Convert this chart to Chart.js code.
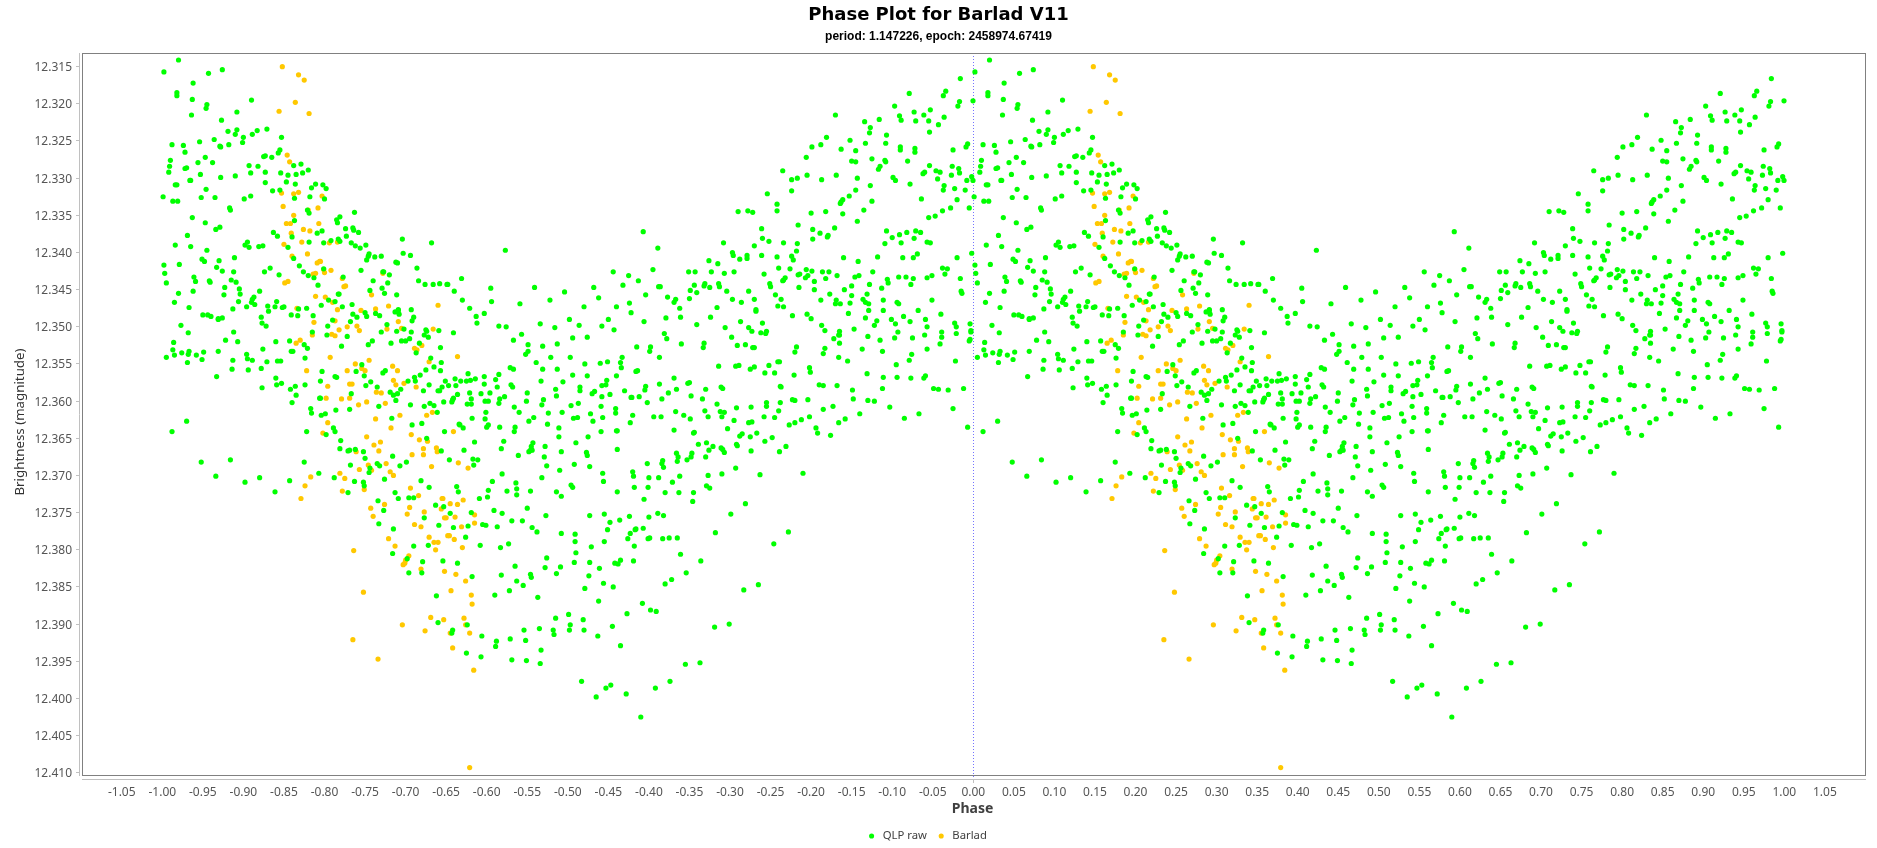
<!DOCTYPE html>
<html>
<head>
<meta charset="utf-8">
<title>Phase Plot for Barlad V11</title>
<script src="https://cdn.jsdelivr.net/npm/chart.js@4"></script>
<style>
	html, body { margin: 0; padding: 0; background: #fff; }
	canvas { display: block; }
</style>
</head>
<body>
<canvas id="phaseChart" width="1877" height="848"></canvas>
<script>
const titleText = "Phase Plot for Barlad V11";
const subtitleText = "period: 1.147226, epoch: 2458974.67419";
const yAxisText = "Brightness (magnitude)";
const seriesNames = ["QLP raw", "Barlad"];

const phaseTicks = [-1.05, -1, -0.95, -0.9, -0.85, -0.8, -0.75, -0.7, -0.65, -0.6, -0.55, -0.5, -0.45, -0.4, -0.35, -0.3, -0.25, -0.2, -0.15, -0.1, -0.05, 0, 0.05, 0.1, 0.15, 0.2, 0.25, 0.3, 0.35, 0.4, 0.45, 0.5, 0.55, 0.6, 0.65, 0.7, 0.75, 0.8, 0.85, 0.9, 0.95, 1, 1.05];
const magTicks = [12.315, 12.32, 12.325, 12.33, 12.335, 12.34, 12.345, 12.35, 12.355, 12.36, 12.365, 12.37, 12.375, 12.38, 12.385, 12.39, 12.395, 12.4, 12.405, 12.41];

// [phase, magnitude] for phase 0..1, the -1..0 half repeats them
const rawPoints = [
[.020,12.3141],[.002,12.3157],[.057,12.3159],[.074,12.3154],[.038,12.3172],[.018,12.3185],[.018,12.3189],[.037,12.3194],[.055,12.3201],[.054,12.3206],[.036,12.3215],[.110,12.3195],[.092,12.3211],[.073,12.3222],[.092,12.3235],[.081,12.3237],[.090,12.3241],[.100,12.3245],[.111,12.3241],[.117,12.3236],[.129,12.3234],[.099,12.3252],[.147,12.3245],[.064,12.3248],[.046,12.3251],[.082,12.3255],[.071,12.3257],[.072,12.3258],[.012,12.3255],[.026,12.3256],[.028,12.3265],[.145,12.3262],[.143,12.3266],[.127,12.3270],[.125,12.3271],[.135,12.3272],[.053,12.3272],[.010,12.3276],[.009,12.3284],[.044,12.3279],[.062,12.3279],[.030,12.3286],[.028,12.3287],[.008,12.3292],[.047,12.3295],[.107,12.3283],[.118,12.3284],[.109,12.3293],[.127,12.3292],[.146,12.3293],[.162,12.3283],[.171,12.3281],[.180,12.3289],[.173,12.3293],[.165,12.3295],[.155,12.3296],
[.035,12.3303],[.034,12.3303],[.072,12.3299],[.090,12.3297],[.127,12.3306],[.153,12.3305],[.164,12.3308],[.145,12.3316],[.136,12.3317],[.189,12.3308],[.184,12.3313],[.198,12.3309],[.202,12.3314],[.016,12.3309],[.018,12.3309],[.054,12.3315],[.048,12.3326],[.065,12.3326],[.001,12.3325],[.013,12.3331],[.019,12.3331],[.101,12.3328],[.109,12.3324],[.163,12.3327],[.182,12.3325],[.200,12.3328],[.083,12.3340],[.084,12.3343],[.179,12.3343],[.181,12.3347],[.037,12.3353],[.053,12.3360],[.066,12.3369],[.071,12.3366],[.163,12.3357],[.237,12.3346],[.219,12.3352],[.215,12.3356],[.216,12.3360],[.226,12.3368],[.235,12.3367],[.236,12.3370],[.242,12.3373],[.197,12.3371],[.191,12.3374],[.137,12.3373],[.142,12.3378],[.160,12.3379],[.031,12.3377],[.217,12.3382],[.219,12.3385],[.227,12.3378],[.208,12.3384],[.199,12.3387],[.181,12.3386],[.233,12.3387],[.238,12.3391],[.244,12.3394],[.251,12.3390],[.296,12.3382],[.332,12.3387],[.423,12.3397],
[.016,12.3390],[.035,12.3392],[.055,12.3397],[.102,12.3390],[.105,12.3386],[.107,12.3393],[.119,12.3392],[.124,12.3391],[.155,12.3393],[.162,12.3408],[.297,12.3401],[.306,12.3404],[.255,12.3402],[.254,12.3405],[.252,12.3410],[.262,12.3406],[.270,12.3405],[.089,12.3407],[.049,12.3409],[.052,12.3412],[.070,12.3411],[.288,12.3413],[.290,12.3414],[.002,12.3417],[.021,12.3416],[.067,12.3420],[.169,12.3418],[.133,12.3421],[.074,12.3425],[.088,12.3426],[.126,12.3426],[.174,12.3426],[.199,12.3422],[.314,12.3421],[.245,12.3424],[.272,12.3426],[.273,12.3426],[.003,12.3428],[.180,12.3431],[.144,12.3430],[.187,12.3434],[.223,12.3433],[.280,12.3430],[.039,12.3433],[.085,12.3437],[.091,12.3440],[.058,12.3438],[.059,12.3440],[.041,12.3439],[.005,12.3441],[.260,12.3438],[.316,12.3438],[.278,12.3441],[.324,12.3443],[.334,12.3443],[.342,12.3442],[.351,12.3443],[.352,12.3443],[.369,12.3435],[.556,12.3426],
[.192,12.3444],[.095,12.3449],[.077,12.3447],[.096,12.3456],[.076,12.3457],[.120,12.3452],[.038,12.3452],[.020,12.3455],[.217,12.3456],[.218,12.3456],[.256,12.3451],[.271,12.3448],[.274,12.3455],[.289,12.3457],[.360,12.3452],[.405,12.3448],[.459,12.3447],[.496,12.3453],[.532,12.3447],[.478,12.3464],[.538,12.3461],[.406,12.3466],[.370,12.3464],[.113,12.3460],[.111,12.3463],[.110,12.3467],[.094,12.3466],[.015,12.3467],[.141,12.3466],[.205,12.3464],[.213,12.3466],[.114,12.3470],[.033,12.3474],[.130,12.3472],[.139,12.3473],[.150,12.3473],[.148,12.3474],[.104,12.3473],[.087,12.3476],[.234,12.3470],[.222,12.3473],[.196,12.3471],[.178,12.3475],[.168,12.3476],[.441,12.3469],[.520,12.3473],[.560,12.3473],[.379,12.3475],[.307,12.3477],[.291,12.3477],
[.050,12.3484],[.056,12.3484],[.060,12.3486],[.069,12.3489],[.074,12.3488],[.069,12.3490],[.122,12.3487],[.131,12.3479],[.159,12.3484],[.167,12.3485],[.186,12.3485],[.210,12.3491],[.232,12.3493],[.235,12.3483],[.240,12.3487],[.250,12.3481],[.252,12.3486],[.263,12.3482],[.268,12.3485],[.287,12.3480],[.291,12.3478],[.292,12.3483],[.310,12.3487],[.308,12.3492],[.387,12.3486],[.397,12.3482],[.388,12.3495],[.415,12.3499],[.424,12.3500],[.466,12.3496],[.484,12.3501],[.502,12.3490],[.514,12.3498],[.542,12.3499],[.550,12.3490],[.557,12.3504],[.023,12.3498],[.123,12.3495],[.128,12.3499],[.204,12.3499],[.277,12.3497],[.298,12.3503],[.307,12.3507],[.270,12.3507],[.289,12.3506],[.325,12.3504],[.326,12.3506],[.341,12.3505],[.359,12.3508],[.032,12.3508],[.088,12.3507],[.185,12.3507],[.203,12.3511],[.228,12.3513],[.323,12.3511],[.328,12.3514],[.443,12.3510],[.433,12.3518],[.506,12.3515],[.524,12.3514],
[.014,12.3521],[.078,12.3518],[.093,12.3520],[.140,12.3520],[.157,12.3519],[.175,12.3524],[.179,12.3529],[.254,12.3524],[.259,12.3519],[.282,12.3522],[.295,12.3519],[.300,12.3519],[.305,12.3516],[.317,12.3522],[.221,12.3526],[.451,12.3524],[.469,12.3526],[.487,12.3523],[.343,12.3528],[.013,12.3531],[.015,12.3538],[.024,12.3535],[.033,12.3533],[.032,12.3537],[.042,12.3538],[.051,12.3534],[.049,12.3544],[.069,12.3533],[.005,12.3541],[.031,12.3548],[.104,12.3537],[.105,12.3543],[.111,12.3545],[.124,12.3530],[.159,12.3533],[.161,12.3533],[.176,12.3542],[.142,12.3546],[.146,12.3546],[.129,12.3547],[.087,12.3545],[.313,12.3535],[.451,12.3533],[.448,12.3537],[.461,12.3548],[.479,12.3541],[.503,12.3541],[.521,12.3550],[.540,12.3549],[.549,12.3547],[.331,12.3542],[.344,12.3548],[.335,12.3554],[.246,12.3551],[.239,12.3560],
[.086,12.3557],[.106,12.3558],[.122,12.3556],[.067,12.3567],[.197,12.3560],[.249,12.3566],[.325,12.3558],[.343,12.3559],[.318,12.3565],[.311,12.3568],[.312,12.3573],[.303,12.3573],[.275,12.3559],[.272,12.3562],[.213,12.3567],[.215,12.3568],[.140,12.3569],[.147,12.3576],[.141,12.3578],[.123,12.3582],[.158,12.3584],[.164,12.3580],[.176,12.3578],[.195,12.3573],[.257,12.3574],[.251,12.3579],[.265,12.3581],[.281,12.3588],[.233,12.3590],[.322,12.3586],[.329,12.3578],[.349,12.3573],[.345,12.3581],[.353,12.3579],[.361,12.3570],[.362,12.3579],[.368,12.3573],[.375,12.3573],[.380,12.3572],[.377,12.3563],[.386,12.3570],[.397,12.3567],[.397,12.3577],[.411,12.3571],[.415,12.3564],[.429,12.3555],[.433,12.3557],[.467,12.3573],[.469,12.3557],[.487,12.3557],[.506,12.3565],[.524,12.3566],[.494,12.3574],[.515,12.3581],[.485,12.3584],[.515,12.3586],[.542,12.3579],[.530,12.3590],[.533,12.3587],[.547,12.3578],[.548,12.3572],[.560,12.3566],[.552,12.3591],[.542,12.3594],
[.430,12.3578],[.432,12.3581],[.413,12.3581],[.340,12.3586],[.342,12.3586],[.290,12.3590],[.285,12.3592],[.294,12.3584],[.165,12.3592],[.194,12.3596],[.195,12.3596],[.288,12.3599],[.160,12.3602],[.183,12.3610],[.184,12.3616],[.201,12.3617],[.196,12.3619],[.214,12.3612],[.231,12.3611],[.267,12.3607],[.306,12.3605],[.323,12.3607],[.330,12.3603],[.335,12.3606],[.347,12.3601],[.358,12.3598],[.359,12.3596],[.357,12.3601],[.364,12.3591],[.381,12.3597],[.379,12.3589],[.393,12.3590],[.404,12.3589],[.422,12.3594],[.416,12.3597],[.415,12.3603],[.398,12.3600],[.402,12.3600],[.376,12.3604],[.381,12.3604],[.450,12.3589],[.449,12.3600],[.470,12.3598],[.468,12.3605],[.486,12.3593],[.434,12.3608],[.440,12.3615],[.504,12.3606],[.513,12.3603],[.541,12.3607],[.559,12.3610],[.559,12.3616],[.528,12.3617],[.543,12.3622],[.531,12.3627],[.399,12.3615],[.398,12.3624],[.382,12.3623],[.339,12.3615],[.283,12.3623],[.308,12.3632],[.320,12.3630],
[.476,12.3616],[.493,12.3615],[.507,12.3623],[.512,12.3622],[.458,12.3622],[.452,12.3627],[.475,12.3631],[.366,12.3631],[.367,12.3632],[.371,12.3636],[.402,12.3632],[.400,12.3635],[.416,12.3635],[.435,12.3635],[.434,12.3641],[.489,12.3636],[.489,12.3648],[.178,12.3641],[.202,12.3645],[.211,12.3636],[.213,12.3641],[.348,12.3641],[.326,12.3650],[.525,12.3648],[.541,12.3641],[.560,12.3640],[.510,12.3656],[.421,12.3654],[.418,12.3664],[.385,12.3655],[.457,12.3656],[.455,12.3661],[.452,12.3668],[.454,12.3666],[.456,12.3666],[.472,12.3661],[.492,12.3668],[.561,12.3665],[.523,12.3669],[.524,12.3673],[.439,12.3673],[.471,12.3675],[.474,12.3687],[.508,12.3685],[.527,12.3688],[.220,12.3653],[.219,12.3664],[.229,12.3667],[.231,12.3666],[.238,12.3665],[.248,12.3668],[.250,12.3677],[.284,12.3674],[.344,12.3667],[.372,12.3666],[.383,12.3678],[.389,12.3679],[.354,12.3679],[.301,12.3682],[.293,12.3687],[.384,12.3686],[.265,12.3684],[.268,12.3687],[.232,12.3686],[.256,12.3690],[.255,12.3696],
[.193,12.3697],[.212,12.3703],[.237,12.3708],[.248,12.3709],[.249,12.3714],[.274,12.3705],[.319,12.3707],[.329,12.3716],[.363,12.3715],[.365,12.3722],[.419,12.3698],[.407,12.3708],[.436,12.3710],[.437,12.3718],[.437,12.3726],[.425,12.3721],[.402,12.3720],[.401,12.3729],[.391,12.3731],[.454,12.3721],[.468,12.3703],[.490,12.3693],[.543,12.3697],[.544,12.3708],[.504,12.3713],[.506,12.3716],[.486,12.3722],[.492,12.3728],[.561,12.3722],[.157,12.3707],[.139,12.3722],[.102,12.3709],[.120,12.3703],[.066,12.3701],[.084,12.3679],[.048,12.3682],[.175,12.3682],[.030,12.3627],[.012,12.3641],
[.229,12.3723],[.287,12.3723],[.291,12.3731],[.304,12.3730],[.310,12.3730],[.266,12.3734],[.273,12.3747],[.267,12.3765],[.285,12.3772],[.337,12.3740],[.347,12.3742],[.355,12.3751],[.381,12.3750],[.409,12.3747],[.419,12.3751],[.450,12.3744],[.473,12.3754],[.527,12.3754],[.545,12.3752],[.552,12.3763],[.323,12.3757],[.341,12.3767],[.359,12.3770],[.377,12.3768],[.395,12.3766],[.399,12.3767],[.413,12.3769],[.431,12.3761],[.444,12.3761],[.456,12.3770],[.462,12.3776],[.492,12.3778],[.509,12.3779],[.549,12.3773],[.509,12.3789],[.545,12.3789],[.529,12.3796],[.510,12.3804],[.310,12.3795],[.328,12.3794],[.374,12.3783],[.392,12.3794],[.417,12.3797],[.427,12.3792],[.284,12.3805],[.302,12.3812],[.321,12.3816],[.346,12.3815],[.364,12.3818],[.435,12.3822],[.474,12.3811],[.472,12.3824],[.491,12.3823],[.508,12.3817],[.527,12.3817],[.539,12.3825],[.558,12.3818],[.562,12.3819],
[.593,12.3372],[.611,12.3394],[.605,12.3423],[.575,12.3431],[.587,12.3438],[.568,12.3444],[.612,12.3446],[.614,12.3446],[.596,12.3457],[.623,12.3460],[.633,12.3463],[.631,12.3467],[.576,12.3468],[.638,12.3475],[.649,12.3426],[.657,12.3426],[.677,12.3426],[.693,12.3428],[.705,12.3426],[.656,12.3444],[.668,12.3445],[.669,12.3442],[.686,12.3442],[.687,12.3446],[.675,12.3447],[.651,12.3451],[.659,12.3454],[.696,12.3452],[.723,12.3452],[.650,12.3462],[.703,12.3463],[.714,12.3467],[.730,12.3463],[.684,12.3474],[.732,12.3477],[.674,12.3411],[.685,12.3415],[.692,12.3387],[.703,12.3400],[.704,12.3404],[.712,12.3409],[.721,12.3404],[.721,12.3408],[.739,12.3404],[.730,12.3391],[.710,12.3345],[.722,12.3344],[.728,12.3346],[.739,12.3368],[.740,12.3381],[.748,12.3385],[.746,12.3321],[.758,12.3335],[.758,12.3344],[.765,12.3290],[.776,12.3302],[.783,12.3300],[.776,12.3317],[.784,12.3363],[.766,12.3387],[.783,12.3388],[.758,12.3406],[.776,12.3405],[.778,12.3410],[.782,12.3398],[.760,12.3421],[.774,12.3422],[.742,12.3429],[.749,12.3442],[.750,12.3446],[.768,12.3434],[.766,12.3437],[.765,12.3438],[.786,12.3429],[.784,12.3430],[.794,12.3423],[.796,12.3431],[.793,12.3434],[.785,12.3447],[.756,12.3457],[.763,12.3463],[.759,12.3472],[.766,12.3473],
[.794,12.3272],[.795,12.3296],[.801,12.3258],[.812,12.3255],[.819,12.3245],[.830,12.3215],[.848,12.3249],[.837,12.3261],[.855,12.3263],[.867,12.3253],[.892,12.3253],[.866,12.3224],[.873,12.3232],[.872,12.3239],[.884,12.3221],[.893,12.3242],[.903,12.3203],[.927,12.3211],[.921,12.3186],[.947,12.3208],[.939,12.3215],[.909,12.3216],[.911,12.3222],[.929,12.3223],[.945,12.3223],[.957,12.3228],[.964,12.3218],[.946,12.3238],[.966,12.3183],[.963,12.3189],[.984,12.3166],[.9996,12.3196],[.983,12.3197],[.981,12.3203],[.910,12.3258],[.910,12.3262],[.928,12.3260],[.928,12.3265],[.975,12.3262],[.993,12.3254],[.991,12.3258],[.850,12.3277],[.855,12.3278],[.875,12.3274],[.891,12.3276],[.892,12.3278],[.919,12.3277],[.946,12.3283],[.974,12.3284],[.982,12.3287],[.983,12.3293],[.954,12.3290],[.959,12.3292],[.940,12.3292],[.938,12.3294],[.973,12.3296],[.885,12.3284],[.883,12.3288],[.831,12.3296],[.813,12.3302],[.857,12.3300],[.901,12.3299],[.904,12.3303],[.956,12.3301],[.998,12.3298],[.9996,12.3303],[.992,12.3303],[.922,12.3308],[.873,12.3310],[.964,12.3310],[.963,12.3316],[.977,12.3314],[.990,12.3316],[.855,12.3316],[.847,12.3324],[.839,12.3329],[.836,12.3334],[.837,12.3332],[.875,12.3331],[.936,12.3328],[.980,12.3329],[.972,12.3340],[.995,12.3340],[.962,12.3344],[.953,12.3351],[.945,12.3353],[.865,12.3343],[.800,12.3347],[.818,12.3345],[.839,12.3348],[.857,12.3358],[.829,12.3367],[.802,12.3369],[.811,12.3374],[.802,12.3382],[.820,12.3379],[.821,12.3377],[.893,12.3371],[.909,12.3376],[.918,12.3373],[.929,12.3371],[.935,12.3373],[.900,12.3380],[.927,12.3381],[.891,12.3388],[.911,12.3387],[.943,12.3386],[.947,12.3387],[.840,12.3407],[.858,12.3412],[.882,12.3406],[.913,12.3407],[.926,12.3407],[.931,12.3402],[.998,12.3401],[.980,12.3407],[.801,12.3425],[.814,12.3426],[.822,12.3426],[.832,12.3431],[.854,12.3433],[.859,12.3431],[.876,12.3426],[.962,12.3421],[.968,12.3422],[.965,12.3429],[.949,12.3431],[.943,12.3434],[.984,12.3435],[.908,12.3433],[.917,12.3433],[.926,12.3435],[.923,12.3443],[.894,12.3436],[.895,12.3441],[.818,12.3435],[.804,12.3439],[.804,12.3450],[.850,12.3445],[.872,12.3443],[.887,12.3448],[.841,12.3450],[.823,12.3456],[.850,12.3458],[.869,12.3456],[.812,12.3464],[.831,12.3464],[.864,12.3463],[.949,12.3464],[.889,12.3464],[.985,12.3452],[.986,12.3455],[.830,12.3469],[.836,12.3469],[.848,12.3468],[.867,12.3467],[.871,12.3469],[.906,12.3467],[.908,12.3469],
[.578,12.3481],[.594,12.3493],[.621,12.3488],[.639,12.3487],[.676,12.3487],[.659,12.3497],[.694,12.3501],[.713,12.3493],[.732,12.3479],[.740,12.3495],[.723,12.3501],[.727,12.3506],[.738,12.3508],[.745,12.3506],[.744,12.3509],[.777,12.3485],[.795,12.3483],[.800,12.3489],[.813,12.3498],[.817,12.3505],[.846,12.3482],[.867,12.3488],[.881,12.3492],[.878,12.3498],[.899,12.3490],[.904,12.3496],[.914,12.3486],[.922,12.3493],[.932,12.3478],[.941,12.3490],[.943,12.3500],[.960,12.3483],[.977,12.3495],[.979,12.3500],[.996,12.3496],[.961,12.3507],[.979,12.3509],[.997,12.3507],[.997,12.3505],[.871,12.3478],[.889,12.3478],[.853,12.3503],[.835,12.3506],[.835,12.3511],[.834,12.3511],[.870,12.3513],[.907,12.3507],[.940,12.3511],[.961,12.3514],[.925,12.3515],[.903,12.3515],[.885,12.3518],[.996,12.3517],[.995,12.3519],[.828,12.3516],[.835,12.3522],[.959,12.3523],[.817,12.3529],[.815,12.3536],[.863,12.3530],[.888,12.3533],[.943,12.3530],[.782,12.3527],[.780,12.3534],[.924,12.3537],[.921,12.3545],[.978,12.3546],[.834,12.3541],[.845,12.3546],[.761,12.3547],[.619,12.3509],[.622,12.3516],[.640,12.3523],[.602,12.3527],[.601,12.3533],[.585,12.3527],[.668,12.3522],[.667,12.3528],[.702,12.3514],[.730,12.3528],[.709,12.3525],[.719,12.3524],[.728,12.3528],[.759,12.3547],[.755,12.3562],[.613,12.3541],[.567,12.3541],[.565,12.3548],[.566,12.3555],[.686,12.3553],[.707,12.3553],[.711,12.3552],[.730,12.3554],[.725,12.3557],[.748,12.3552],[.743,12.3562],[.798,12.3555],[.799,12.3561],[.779,12.3565],[.905,12.3551],[.869,12.3563],[.889,12.3568],[.906,12.3568],[.923,12.3569],[.939,12.3569],[.941,12.3566],[.584,12.3560],[.586,12.3559],[.631,12.3569],[.810,12.3578],[.815,12.3579],[.832,12.3579],[.851,12.3585],[.888,12.3583],[.951,12.3583],[.957,12.3584],[.969,12.3585],[.988,12.3583],[.762,12.3580],[.763,12.3581],[.596,12.3580],[.595,12.3585],[.613,12.3577],[.648,12.3576],[.650,12.3575],[.670,12.3584],[.689,12.3581],[.691,12.3583],[.634,12.3584],[.624,12.3589],[.570,12.3586],[.588,12.3594],[.578,12.3595],[.579,12.3595],[.616,12.3597],[.652,12.3593],[.666,12.3597],[.598,12.3602],[.684,12.3604],[.762,12.3602],[.777,12.3598],[.780,12.3599],[.796,12.3598],[.745,12.3602],[.745,12.3607],[.708,12.3609],[.726,12.3608],[.852,12.3597],[.870,12.3599],[.878,12.3600],[.815,12.3611],[.827,12.3607],[.897,12.3608],[.975,12.3610],[.633,12.3614],[.669,12.3613],[.688,12.3614],[.693,12.3615],[.690,12.3621],[.580,12.3619],[.606,12.3621],[.615,12.3621],[.643,12.3619],[.651,12.3624],[.673,12.3621],[.760,12.3613],[.742,12.3621],[.755,12.3622],[.798,12.3621],[.788,12.3625],[.780,12.3629],[.773,12.3632],[.860,12.3617],[.842,12.3624],[.834,12.3629],[.933,12.3617],[.915,12.3623],[.993,12.3635],
[.577,12.3629],[.705,12.3626],[.727,12.3628],[.723,12.3629],[.561,12.3640],[.631,12.3639],[.655,12.3643],[.656,12.3642],[.697,12.3637],[.715,12.3644],[.712,12.3647],[.733,12.3643],[.725,12.3648],[.752,12.3649],[.743,12.3654],[.806,12.3636],[.808,12.3643],[.824,12.3646],[.661,12.3658],[.671,12.3656],[.679,12.3661],[.674,12.3666],[.689,12.3663],[.691,12.3665],[.693,12.3669],[.708,12.3658],[.709,12.3660],[.769,12.3661],[.761,12.3668],[.726,12.3667],[.634,12.3670],[.636,12.3675],[.635,12.3681],[.653,12.3670],[.652,12.3675],[.647,12.3679],[.670,12.3675],[.617,12.3680],[.616,12.3684],[.618,12.3689],[.598,12.3684],[.707,12.3690],[.580,12.3695],[.581,12.3701],[.600,12.3703],[.612,12.3703],[.638,12.3701],[.673,12.3700],[.690,12.3698],[.737,12.3699],[.790,12.3697],[.629,12.3709],[.671,12.3714],[.675,12.3717],[.599,12.3716],[.582,12.3716],[.620,12.3723],[.637,12.3723],[.655,12.3723],[.594,12.3732],[.654,12.3735],[.719,12.3738],[.701,12.3752],[.576,12.3755],[.600,12.3756],[.611,12.3751],[.618,12.3754],[.564,12.3760],[.583,12.3773],[.584,12.3772],[.593,12.3771],[.577,12.3778],[.625,12.3784],[.682,12.3777],[.772,12.3776],[.574,12.3785],[.599,12.3785],[.601,12.3784],[.617,12.3785],[.635,12.3784],[.582,12.3795],[.754,12.3792],[.639,12.3806],[.581,12.3815],[.664,12.3815],[.565,12.3814],
[.646,12.3831],[.628,12.3840],[.620,12.3846],[.717,12.3854],[.735,12.3847],[.592,12.3872],[.602,12.3881],[.609,12.3883],[.573,12.3886],[.681,12.3904],[.699,12.3900],[.565,12.3929],[.645,12.3954],[.663,12.3952],[.626,12.3977],[.608,12.3986],[.572,12.3994],[.590,12.4025],[.304,12.3831],[.320,12.3831],[.382,12.3836],[.418,12.3834],[.454,12.3833],[.455,12.3837],[.437,12.3842],[.445,12.3848],[.428,12.3855],[.410,12.3861],[.463,12.3864],[.338,12.3862],[.486,12.3832],[.526,12.3835],[.544,12.3845],[.556,12.3850],[.521,12.3852],[.538,12.3869],[.485,12.3892],[.501,12.3887],[.519,12.3894],[.503,12.3901],[.502,12.3908],[.520,12.3908],[.555,12.3903],[.465,12.3906],[.446,12.3908],[.482,12.3908],[.483,12.3914],[.537,12.3916],[.340,12.3898],[.376,12.3901],[.358,12.3908],[.357,12.3912],[.394,12.3916],[.412,12.3923],[.429,12.3920],[.448,12.3922],[.411,12.3930],[.467,12.3935],[.375,12.3939],[.393,12.3944],[.431,12.3948],[.449,12.3949],[.466,12.3953],[.517,12.3977],[.553,12.3982],[.547,12.3986],[.535,12.3998]
];

const barladPoints = [
[.148,12.3150],[.168,12.3161],[.175,12.3168],[.164,12.3198],[.144,12.3210],[.181,12.3213],[.154,12.3269],[.157,12.3278],[.147,12.3320],[.162,12.3321],[.168,12.3319],[.197,12.3324],[.149,12.3338],[.192,12.3340],[.180,12.3343],[.162,12.3350],[.153,12.3361],[.158,12.3361],[.193,12.3361],[.174,12.3369],[.182,12.3371],[.159,12.3374],[.150,12.3389],[.172,12.3386],[.206,12.3387],[.216,12.3386],[.160,12.3405],[.179,12.3402],[.191,12.3414],[.195,12.3412],[.194,12.3412],[.199,12.3423],[.200,12.3427],[.208,12.3424],[.186,12.3429],[.189,12.3428],[.222,12.3435],[.151,12.3441],[.155,12.3439],[.272,12.3428],[.224,12.3446],[.226,12.3445],[.189,12.3459],[.201,12.3460],[.210,12.3467],[.258,12.3457],[.340,12.3471],[.279,12.3472],[.263,12.3476],[.216,12.3477],[.245,12.3478],[.166,12.3475],
[.187,12.3494],[.213,12.3492],[.228,12.3500],[.218,12.3504],[.240,12.3499],[.243,12.3505],[.291,12.3493],[.277,12.3503],[.295,12.3502],[.334,12.3503],[.185,12.3511],[.209,12.3510],[.213,12.3512],[.170,12.3518],[.165,12.3522],[.320,12.3525],[.311,12.3529],[.314,12.3531],[.207,12.3541],[.364,12.3540],[.329,12.3547],[.255,12.3545],[.238,12.3550],[.228,12.3559],[.246,12.3556],[.250,12.3559],[.284,12.3553],[.290,12.3559],[.178,12.3559],[.285,12.3572],[.288,12.3578],[.298,12.3576],[.313,12.3581],[.231,12.3577],[.234,12.3577],[.204,12.3580],[.264,12.3588],[.270,12.3589],[.202,12.3596],[.221,12.3597],[.231,12.3596],[.242,12.3605],[.252,12.3601],[.275,12.3603],[.263,12.3624],[.293,12.3619],[.326,12.3619],[.333,12.3615],[.204,12.3629],[.282,12.3636],[.198,12.3643],[.359,12.3641],[.307,12.3645],[.252,12.3648],[.317,12.3652],[.327,12.3654],[.269,12.3655],[.261,12.3659],[.322,12.3664],[.338,12.3663],[.267,12.3667],[.339,12.3668],[.239,12.3668],[.322,12.3672],[.308,12.3672],[.365,12.3683],[.332,12.3688],[.377,12.3690],[.254,12.3686],[.276,12.3684],[.243,12.3692],[.258,12.3693],[.281,12.3695],[.285,12.3700],[.219,12.3697],[.225,12.3704],[.183,12.3702],[.176,12.3714],[.222,12.3721],[.249,12.3719],[.171,12.3731],
[.306,12.3717],[.316,12.3727],[.346,12.3731],[.345,12.3731],[.355,12.3738],[.364,12.3739],[.371,12.3733],[.257,12.3744],[.274,12.3739],[.305,12.3743],[.344,12.3745],[.323,12.3749],[.302,12.3752],[.260,12.3755],[.385,12.3753],[.350,12.3757],[.348,12.3757],[.361,12.3756],[.385,12.3764],[.311,12.3766],[.319,12.3769],[.369,12.3769],[.329,12.3783],[.352,12.3781],[.354,12.3781],[.279,12.3785],[.360,12.3786],[.335,12.3790],[.340,12.3790],[.287,12.3795],[.370,12.3797],[.337,12.3800],[.236,12.3801],[.304,12.3808],[.300,12.3814],[.299,12.3818],[.297,12.3820],[.319,12.3826],[.348,12.3829],
[.362,12.3833],[.374,12.3842],[.248,12.3857],[.356,12.3855],[.381,12.3861],[.382,12.3873],[.331,12.3891],[.347,12.3894],[.372,12.3892],[.296,12.3901],[.324,12.3909],[.374,12.3901],[.355,12.3912],[.379,12.3912],[.235,12.3921],[.358,12.3932],[.266,12.3947],[.384,12.3962],[.379,12.4093]
];

// left half is the same folded data shifted one cycle
const rawData = rawPoints.concat(rawPoints.map(p => [p[0] - 1, p[1]])).map(p => ({ x: p[0], y: p[1] }));
const barladData = barladPoints.concat(barladPoints.map(p => [p[0] - 1, p[1]])).map(p => ({ x: p[0], y: p[1] }));

const tickFont = { family: "Noto Sans", size: 12 };
const labelColor = "#404040";

// plot frame and axis lines sit a few pixels apart, like the original
const framePlugin = {
	id: "frame",
	afterLayout(chart) {
		chart.legend.left -= 6.5;
		chart.legend.right -= 6.5;
		chart.legend.top = 821.55;
		// titles are centred on the canvas, not on the padded box
		chart.boxes.forEach(b => {
			if (b.options && (b.options.text === titleText || b.options.text === subtitleText)) {
				b.left += 5.5;
				b.right += 5.5;
			}
		});
	},
	afterDatasetsDraw(chart) {
		const a = chart.chartArea;
		const c = chart.ctx;
		c.save();
		c.lineWidth = 1;
		c.strokeStyle = "#808080";
		c.strokeRect(a.left + 3.5, a.top + 0.5, a.right - a.left - 4, a.bottom - a.top - 4);
		c.strokeStyle = "#c0c0c0";
		c.beginPath();
		c.moveTo(a.left + 0.5, a.top);
		c.lineTo(a.left + 0.5, a.bottom - 3);
		c.moveTo(a.left + 3, a.bottom + 0.5);
		c.lineTo(a.right, a.bottom + 0.5);
		c.stroke();
		// y axis title sits below the scale centre in the original
		c.translate(20, 422);
		c.rotate(-Math.PI / 2);
		c.font = '13.3px "Noto Sans"';
		c.fillStyle = "#333";
		c.textAlign = "center";
		c.textBaseline = "middle";
		c.fillText(yAxisText, 0, 0);
		c.restore();
	},
};

new Chart(document.getElementById("phaseChart").getContext("2d"), {
	type: "scatter",
	data: {
		datasets: [
			{ label: seriesNames[0], data: rawData, backgroundColor: "#00ff00", borderColor: "#00ff00", borderWidth: 0, pointRadius: 2.6, pointStyle: "circle" },
			{ label: seriesNames[1], data: barladData, backgroundColor: "#ffc800", borderColor: "#ffc800", borderWidth: 0, pointRadius: 2.6, pointStyle: "circle" },
		],
	},
	plugins: [framePlugin],
	options: {
		responsive: false,
		animation: false,
		layout: { padding: { left: 0, right: 11, top: 0, bottom: 0 } },
		plugins: {
			title: {
				display: true,
				text: titleText,
				color: "#000",
				font: { family: "DejaVu Sans", size: 18, weight: "bold" },
				padding: { top: 4.4, bottom: 0 },
			},
			subtitle: {
				display: true,
				text: subtitleText,
				color: "#000",
				font: { family: "Liberation Sans", size: 12, weight: "bold" },
				padding: { top: 3.8, bottom: 8.8 },
			},
			legend: {
				position: "bottom",
				labels: {
					usePointStyle: true,
					boxWidth: 11,
					boxHeight: 3.6,
					padding: 8.8,
					color: labelColor,
					font: { family: "Noto Sans", size: 11.3 },
				},
			},
			tooltip: { enabled: false },
		},
		scales: {
			x: {
				type: "linear",
				min: -1.1027,
				max: 1.1007,
				afterBuildTicks: s => { s.ticks = phaseTicks.map(v => ({ value: v })); },
				afterFit: s => { s.height = 848 - 779 - s.chart.legend.height; },
				title: { display: true, text: "Phase", color: labelColor, font: { family: "Noto Sans", size: 14, weight: "bold" }, padding: { top: 0, bottom: 0 } },
				ticks: { autoSkip: false, maxRotation: 0, color: "#555", font: tickFont, padding: 2, callback: v => v.toFixed(2) },
				border: { display: false, dash: [1, 2] },
				grid: {
					tickLength: 4,
					tickColor: "#c0c0c0",
					lineWidth: ctx => (ctx.tick && ctx.tick.value === 0 ? 1 : 0),
					color: "rgba(70,70,255,0.75)",
				},
			},
			y: {
				type: "linear",
				reverse: true,
				min: 12.31316,
				max: 12.41084,
				afterBuildTicks: s => { s.ticks = magTicks.map(v => ({ value: v })); },
				afterFit: s => { s.width = 79; },
				ticks: { autoSkip: false, color: "#555", font: tickFont, padding: 4, labelOffset: 1, callback: v => v.toFixed(3) },
				border: { display: false },
				grid: { drawOnChartArea: false, tickLength: 3, tickColor: "#c0c0c0" },
			},
		},
	},
});
</script>
</body>
</html>
